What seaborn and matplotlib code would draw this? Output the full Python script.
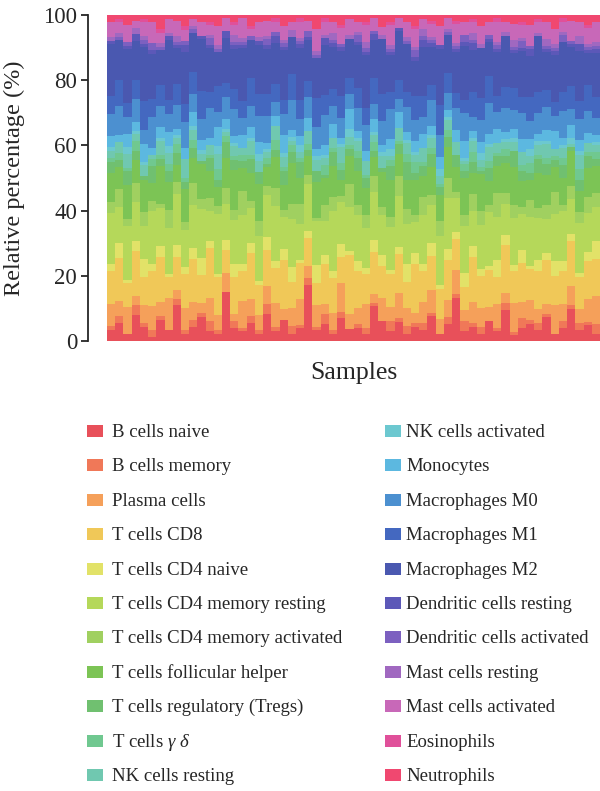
import numpy as np
import pandas as pd
import matplotlib
matplotlib.use("Agg")
import matplotlib.pyplot as plt
from matplotlib.patches import Rectangle
import seaborn as sns

# ==============================================================
# DATA  (immune cell fractions per sample, %)
# ==============================================================
cell_types = [
    "B cells naive", "B cells memory", "Plasma cells", "T cells CD8",
    "T cells CD4 naive", "T cells CD4 memory resting",
    "T cells CD4 memory activated", "T cells follicular helper",
    "T cells regulatory (Tregs)", "T cells $\\gamma\\ \\delta$",
    "NK cells resting", "NK cells activated", "Monocytes",
    "Macrophages M0", "Macrophages M1", "Macrophages M2",
    "Dendritic cells resting", "Dendritic cells activated",
    "Mast cells resting", "Mast cells activated", "Eosinophils", "Neutrophils",
]
palette = [
    "#E8505A", "#F07858", "#F5A05A", "#F0C858", "#E2E268", "#B5D85A",
    "#A0D060", "#7CC455", "#70C070", "#70C890", "#70C8B0", "#6CC8D0",
    "#5CB8E0", "#4C90D0", "#4468C0", "#4A58B0", "#5C58B8", "#7C60C0",
    "#A068C0", "#C868B8", "#E0509A", "#F04870",
]

b_naive = [3, 5, 2, 8, 4, 1, 6, 3, 12, 2,
           4, 7, 3, 2, 15, 4, 3, 5, 2, 9,
           3, 6, 2, 4, 18, 3, 5, 2, 7, 3,
           4, 2, 11, 5, 3, 6, 2, 4, 3, 8,
           2, 5, 14, 3, 4, 2, 6, 3, 9, 2,
           4, 5, 3, 7, 2, 4, 10, 3, 5, 2]
b_memory = [1, 2, 0, 3, 1, 2, 1, 0, 2, 1,
            2, 1, 3, 1, 0, 2, 1, 2, 1, 3,
            1, 0, 2, 1, 2, 1, 3, 1, 2, 0,
            1, 2, 1, 0, 3, 1, 2, 1, 2, 1,
            0, 2, 1, 3, 1, 2, 0, 1, 2, 1,
            3, 1, 2, 1, 0, 2, 1, 2, 1, 3]
plasma = [6, 4, 8, 3, 5, 7, 4, 9, 3, 6,
          5, 3, 7, 4, 6, 2, 8, 5, 4, 6,
          7, 3, 5, 8, 4, 6, 3, 5, 9, 4,
          5, 7, 3, 6, 4, 8, 5, 3, 6, 7,
          4, 5, 8, 3, 6, 5, 4, 7, 3, 9,
          5, 6, 4, 3, 8, 5, 6, 4, 7, 8]
t_cd8 = [9, 12, 7, 14, 8, 10, 13, 6, 11, 9,
         12, 8, 15, 10, 7, 11, 9, 13, 8, 12,
         10, 14, 7, 11, 9, 6, 12, 10, 8, 15,
         11, 9, 13, 8, 10, 12, 7, 14, 9, 11,
         8, 12, 10, 7, 13, 9, 11, 8, 14, 10,
         12, 9, 11, 13, 8, 10, 14, 9, 12, 11]
t_cd4_naive = [2, 4, 1, 3, 5, 2, 3, 1, 4, 2,
               3, 5, 2, 1, 3, 4, 2, 3, 1, 4,
               2, 3, 4, 1, 2, 5, 3, 2, 4, 1,
               3, 2, 4, 3, 1, 2, 5, 3, 2, 4,
               1, 3, 2, 4, 3, 2, 1, 5, 3, 2,
               4, 1, 3, 2, 4, 3, 2, 1, 3, 5]
t_cd4_mem_rest = [14, 10, 16, 12, 9, 15, 11, 13, 17, 10,
                  12, 14, 9, 16, 11, 13, 15, 10, 12, 14,
                  16, 9, 13, 11, 15, 12, 10, 17, 13, 11,
                  14, 12, 15, 10, 13, 16, 11, 9, 14, 12,
                  13, 15, 11, 14, 10, 12, 16, 13, 9, 15,
                  11, 14, 12, 10, 13, 15, 11, 14, 12, 10]
t_cd4_mem_act = [3, 5, 2, 6, 4, 3, 1, 5, 4, 2,
                 6, 3, 4, 2, 5, 3, 7, 2, 4, 3,
                 5, 2, 4, 6, 3, 1, 5, 4, 2, 6,
                 3, 4, 5, 2, 3, 6, 4, 2, 5, 3,
                 4, 6, 2, 3, 5, 4, 2, 7, 3, 4,
                 2, 5, 3, 4, 6, 2, 4, 3, 5, 4]
t_fh = [8, 6, 10, 7, 9, 5, 11, 8, 6, 9,
        7, 10, 8, 5, 9, 12, 7, 8, 10, 6,
        9, 7, 11, 8, 6, 10, 8, 9, 5, 7,
        10, 8, 6, 9, 11, 7, 8, 10, 6, 9,
        7, 9, 8, 11, 6, 10, 7, 8, 9, 12,
        8, 6, 10, 9, 7, 8, 11, 6, 9, 8]
t_reg = [3, 2, 4, 3, 1, 5, 2, 3, 4, 2,
         3, 1, 4, 2, 5, 3, 2, 4, 3, 1,
         2, 4, 3, 5, 2, 3, 1, 4, 3, 2,
         4, 3, 2, 1, 4, 3, 5, 2, 3, 4,
         2, 3, 4, 2, 3, 1, 4, 3, 2, 5,
         3, 2, 4, 3, 2, 4, 1, 3, 4, 2]
t_gd = [1, 2, 1, 3, 0, 2, 1, 2, 3, 1,
        2, 0, 1, 3, 2, 1, 2, 1, 0, 2,
        3, 1, 2, 1, 2, 0, 3, 1, 2, 1,
        2, 1, 3, 0, 2, 1, 2, 3, 1, 2,
        1, 2, 0, 2, 3, 1, 2, 1, 2, 0,
        2, 3, 1, 2, 1, 2, 0, 3, 1, 2]
nk_rest = [2, 3, 4, 2, 3, 1, 4, 3, 2, 5,
           3, 2, 3, 4, 1, 3, 2, 4, 3, 2,
           4, 3, 1, 2, 4, 3, 2, 3, 5, 2,
           3, 4, 2, 3, 1, 4, 3, 2, 4, 3,
           2, 3, 4, 1, 3, 2, 4, 3, 2, 3,
           4, 2, 3, 4, 2, 3, 1, 4, 3, 2]
nk_act = [1, 0, 2, 1, 1, 0, 1, 2, 1, 0,
          1, 1, 0, 2, 1, 1, 0, 1, 2, 1,
          0, 1, 1, 2, 0, 1, 1, 0, 1, 2,
          1, 0, 1, 1, 2, 0, 1, 1, 0, 1,
          2, 1, 0, 1, 1, 2, 1, 0, 1, 1,
          0, 2, 1, 1, 0, 1, 2, 1, 0, 1]
monocytes = [3, 2, 4, 3, 5, 2, 3, 4, 2, 3,
             4, 3, 2, 5, 3, 2, 4, 3, 3, 2,
             3, 5, 2, 3, 4, 2, 3, 4, 2, 5,
             2, 3, 4, 2, 3, 5, 2, 3, 4, 3,
             3, 2, 4, 5, 2, 3, 3, 4, 2, 3,
             4, 3, 2, 3, 5, 2, 4, 3, 3, 2]
mac_m0 = [6, 8, 5, 7, 4, 9, 6, 5, 8, 7,
          5, 6, 9, 4, 7, 8, 5, 6, 7, 9,
          4, 6, 8, 5, 7, 6, 9, 5, 6, 4,
          7, 8, 5, 6, 9, 4, 7, 6, 5, 8,
          6, 5, 7, 8, 4, 6, 9, 5, 7, 6,
          8, 5, 6, 7, 4, 8, 5, 6, 7, 5]
mac_m1 = [5, 7, 4, 6, 8, 5, 6, 4, 7, 5,
          6, 8, 5, 7, 4, 6, 5, 8, 6, 7,
          5, 4, 7, 6, 5, 8, 6, 5, 7, 4,
          6, 5, 8, 7, 5, 6, 4, 7, 6, 5,
          8, 6, 5, 4, 7, 6, 8, 5, 6, 7,
          5, 7, 6, 5, 4, 6, 7, 5, 8, 6]
mac_m2 = [14, 11, 16, 12, 15, 13, 10, 17, 12, 14,
          11, 15, 13, 9, 14, 12, 16, 11, 13, 15,
          12, 14, 10, 16, 13, 11, 15, 12, 14, 10,
          13, 16, 12, 14, 11, 15, 13, 10, 14, 12,
          15, 11, 13, 16, 12, 14, 10, 13, 15, 11,
          14, 12, 16, 11, 13, 15, 12, 14, 10, 13]
dc_rest = [1, 0, 1, 2, 1, 1, 0, 1, 1, 2,
           0, 1, 1, 0, 2, 1, 1, 0, 1, 1,
           2, 1, 0, 1, 1, 0, 2, 1, 1, 0,
           1, 1, 2, 0, 1, 1, 0, 1, 2, 1,
           1, 0, 1, 1, 2, 0, 1, 1, 0, 1,
           1, 2, 0, 1, 1, 0, 1, 2, 1, 1]
dc_act = [0, 1, 1, 0, 1, 2, 1, 0, 1, 1,
          1, 0, 2, 1, 0, 1, 1, 1, 0, 2,
          1, 1, 0, 1, 2, 1, 0, 1, 1, 0,
          2, 1, 1, 0, 1, 0, 1, 2, 1, 1,
          0, 1, 1, 2, 1, 0, 1, 1, 0, 1,
          2, 1, 0, 1, 1, 2, 1, 0, 1, 1]
mast_rest = [1, 1, 0, 2, 1, 0, 1, 1, 2, 0,
             1, 0, 1, 1, 0, 2, 1, 0, 1, 1,
             0, 1, 2, 1, 0, 1, 1, 2, 0, 1,
             1, 2, 0, 1, 1, 0, 1, 1, 2, 1,
             0, 1, 1, 0, 2, 1, 0, 1, 1, 2,
             1, 0, 1, 2, 1, 1, 0, 2, 1, 1]
mast_act = [4, 3, 5, 2, 4, 6, 3, 4, 5, 3,
            2, 4, 3, 5, 4, 3, 6, 2, 4, 5,
            3, 4, 2, 5, 3, 6, 4, 3, 5, 4,
            3, 5, 4, 2, 6, 3, 4, 5, 3, 4,
            5, 3, 6, 4, 3, 5, 4, 6, 3, 5,
            4, 6, 3, 5, 4, 3, 6, 4, 5, 6]
eosinophils = [0, 1, 0, 0, 1, 0, 1, 0, 0, 1,
               0, 0, 1, 0, 0, 1, 0, 1, 0, 0,
               1, 0, 0, 1, 0, 0, 1, 0, 1, 0,
               0, 1, 0, 0, 1, 0, 0, 1, 0, 1,
               0, 0, 1, 0, 1, 0, 0, 1, 0, 0,
               1, 0, 1, 0, 0, 1, 0, 0, 1, 0]
neutrophils = [2, 1, 3, 2, 1, 2, 4, 1, 2, 3,
               1, 2, 2, 3, 1, 2, 1, 3, 2, 2,
               1, 3, 2, 1, 2, 4, 1, 2, 3, 1,
               2, 2, 1, 3, 2, 1, 2, 3, 1, 2,
               3, 1, 2, 2, 1, 3, 2, 1, 2, 3,
               2, 3, 1, 2, 4, 1, 2, 2, 3, 2]

fractions = [b_naive, b_memory, plasma, t_cd8, t_cd4_naive, t_cd4_mem_rest,
             t_cd4_mem_act, t_fh, t_reg, t_gd, nk_rest, nk_act, monocytes,
             mac_m0, mac_m1, mac_m2, dc_rest, dc_act, mast_rest, mast_act,
             eosinophils, neutrophils]

# long table, rescaled so each sample sums to 100 %
rows = []
for cell, vals in zip(cell_types, fractions):
    for i, v in enumerate(vals):
        rows.append((i, cell, v))
df = pd.DataFrame(rows, columns=["sample", "cell", "value"])
df["pct"] = df["value"] / df.groupby("sample")["value"].transform("sum") * 100
n_samples = df["sample"].nunique()

# ==============================================================
# STYLE
# ==============================================================
sns.set_style("ticks")
plt.rcParams["font.family"] = ["Liberation Serif", "DejaVu Serif"]
plt.rcParams["mathtext.fontset"] = "custom"
plt.rcParams["mathtext.rm"] = "Liberation Serif"
plt.rcParams["mathtext.it"] = "Liberation Serif:italic"

W, H = 600, 791
fig = plt.figure(figsize=(W / 100, H / 100), dpi=100)
ax = fig.add_axes([107 / W, 1 - 341 / H, 493 / W, 326 / H])

sns.histplot(data=df, x="sample", weights="pct", hue="cell",
             hue_order=cell_types[::-1],
             palette=dict(zip(cell_types, palette)),
             multiple="stack", discrete=True, shrink=1,
             linewidth=0, alpha=1, legend=False, ax=ax)

ax.set_xlim(-0.5, n_samples - 0.5)
ax.set_ylim(0, 100)
ax.set_yticks([0, 20, 40, 60, 80, 100])
ax.set_xticks([])
ax.tick_params(axis="y", labelsize=16.5, length=5, width=1.3, pad=3)
for side in ["top", "right", "bottom"]:
    ax.spines[side].set_visible(False)
ax.spines["left"].set_position(("outward", 13.5))
ax.spines["left"].set_linewidth(1.3)

ax.set_ylabel("Relative percentage (%)", fontsize=17.5)
ax.yaxis.set_label_coords(-0.166, 0.5)
ax.set_xlabel("Samples", fontsize=18.5, labelpad=15)

# legend: two columns of 11 entries
row_gap = 34.4
for i, (label, color) in enumerate(zip(cell_types, palette)):
    col, row = divmod(i, 11)
    x_box = [87, 385][col]
    x_txt = [112, 406][col]
    yc = 431 + row * row_gap
    fig.add_artist(Rectangle((x_box / W, 1 - (yc + 6) / H), 16 / W, 12 / H,
                             transform=fig.transFigure,
                             facecolor=color, edgecolor="none"))
    fig.text(x_txt / W, 1 - (yc + 6) / H, label, fontsize=13.5,
             va="baseline", ha="left")

fig.savefig("out.png", dpi=100)
